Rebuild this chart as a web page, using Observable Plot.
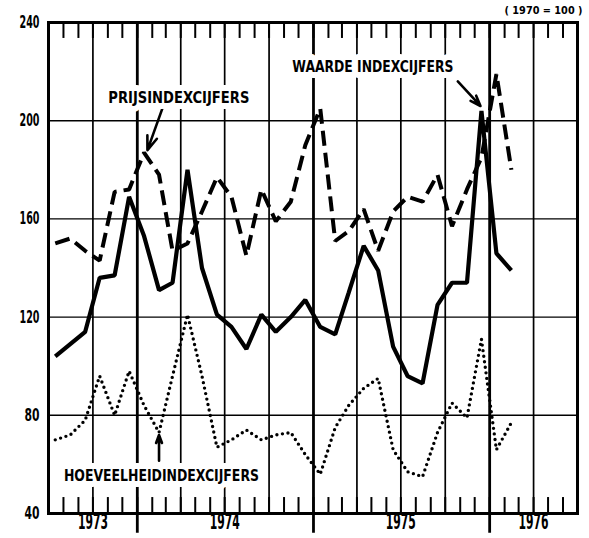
<!DOCTYPE html>
<html>
<head>
<meta charset="utf-8">
<script src="https://cdn.jsdelivr.net/npm/d3@7"></script>
<script src="https://cdn.jsdelivr.net/npm/@observablehq/plot@0.6"></script>
<style>
  html, body { margin: 0; padding: 0; background: #fff; }
  #chart svg { display: block; }
</style>
</head>
<body>
<div id="chart"></div>
<script>
// ---- data (index 1970 = 100), monthly ----
const months = [
  "1973-07","1973-08","1973-09","1973-10","1973-11","1973-12",
  "1974-01","1974-02","1974-03","1974-04","1974-05","1974-06",
  "1974-07","1974-08","1974-09","1974-10","1974-11","1974-12",
  "1975-01","1975-02","1975-03","1975-04","1975-05","1975-06",
  "1975-07","1975-08","1975-09","1975-10","1975-11","1975-12",
  "1976-01","1976-02"
];
// WAARDE INDEXCIJFERS (solid)
const waarde = [
  104, 109, 114, 136, 137, 169,
  153, 131, 134, 180, 140, 121,
  116, 107, 121, 114, 120, 127,
  116, 113, 130, 149, 139, 108,
   96,  93, 125, 134, 134, 204,
  146, 139
];
// PRIJSINDEXCIJFERS (dashed)
const prijs = [
  150, 152, 147, 143, 171, 172,
  187, 178, 147, 150, 163, 177,
  169, 145, 172, 159, 167, 190,
  205, 151, 155, 164, 147, 163,
  169, 167, 178, 157, 172, 185,
  219, 180
];
// HOEVEELHEIDINDEXCIJFERS (dotted)
const hoeveelheid = [
   70,  72,  78,  96,  80,  98,
   84,  73,  96, 121,  96,  67,
   70,  74,  70,  72,  73,  64,
   56,  75,  84,  91,  95,  66,
   57,  55,  73,  85,  79, 111,
   66,  77
];
const yTicks = [40, 80, 120, 160, 200, 240];
const yGrid = [80, 120, 160, 200];
const yearLabels = ["1973", "1974", "1975", "1976"];
const yearLabelDates = ["1973-10-01", "1974-07-01", "1975-07-01", "1976-04-01"];
const baseNote = "( 1970 = 100 )";

// annotations (data coordinates)
const labelTexts = ["PRIJSINDEXCIJFERS", "WAARDE INDEXCIJFERS", "HOEVEELHEIDINDEXCIJFERS"];
const labelDates = ["1974-03-28", "1975-05-04", "1974-02-20"];
const labelValues = [209.2, 222.1, 55.5];
const arrowFromDates = ["1974-02-22", "1975-10-27", "1974-02-15"];
const arrowFromValues = [205, 216, 61.5];
const arrowToDates = ["1974-01-22", "1975-12-13", "1974-02-15"];
const arrowToValues = [188, 206, 72];

// ---- build tables ----
const D = s => new Date(s.length === 7 ? s + "-15T00:00:00Z" : s + "T00:00:00Z");
const rows = months.map((m, i) => ({date: D(m), waarde: waarde[i], prijs: prijs[i], hoeveelheid: hoeveelheid[i]}));
const xDomain = [D("1973-07-01"), D("1976-07-01")];
const monthTicks = d3.utcMonth.range(D("1973-08-01"), D("1976-07-01"));
const yearLines = d3.utcYear.range(D("1973-07-02"), D("1976-07-01"));
const quarterLines = d3.utcMonth.every(3).range(D("1973-08-01"), D("1976-07-01")).filter(d => d.getUTCMonth() !== 0);
const years = yearLabels.map((t, i) => ({text: t, date: D(yearLabelDates[i])}));
const labels = labelTexts.map((t, i) => ({text: t, date: D(labelDates[i]), value: labelValues[i]}));
const arrows = arrowFromDates.map((d, i) => ({
  x1: D(d), y1: arrowFromValues[i], x2: D(arrowToDates[i]), y2: arrowToValues[i]
}));

const font = "'Liberation Sans Narrow', 'DejaVu Sans Condensed', 'Liberation Sans', Arial, sans-serif";

const chart = Plot.plot({
  width: 589,
  height: 538,
  marginLeft: 48,
  marginRight: 12,
  marginTop: 22,
  marginBottom: 25,
  x: {type: "utc", domain: xDomain, axis: null},
  y: {domain: [40, 240], axis: null},
  style: {fontFamily: font, background: "#fff", color: "#000", overflow: "visible"},
  marks: [
    Plot.ruleY(yGrid, {stroke: "#000", strokeWidth: 1.4}),
    Plot.ruleX(quarterLines, {y1: 40, y2: 240, stroke: "#000", strokeWidth: 1.7}),
    Plot.ruleX(monthTicks, {y1: 240, y2: 233.5, stroke: "#000", strokeWidth: 2}),
    Plot.ruleX(monthTicks, {y1: 40, y2: 46.5, stroke: "#000", strokeWidth: 2}),
    Plot.ruleX(yearLines, {y1: 32, y2: 240, stroke: "#000", strokeWidth: 2.8}),
    Plot.line(rows, {x: "date", y: "hoeveelheid", stroke: "#000", strokeWidth: 3.4,
      strokeDasharray: "0,5.6", strokeLinecap: "round", strokeLinejoin: "round"}),
    Plot.line(rows, {x: "date", y: "prijs", stroke: "#000", strokeWidth: 4,
      strokeDasharray: "15,7", strokeLinecap: "butt", strokeLinejoin: "miter"}),
    Plot.line(rows, {x: "date", y: "waarde", stroke: "#000", strokeWidth: 4.2,
      strokeLinejoin: "miter", strokeLinecap: "butt"}),
    Plot.arrow(arrows, {x1: "x1", y1: "y1", x2: "x2", y2: "y2", stroke: "#000",
      strokeWidth: 2.6, headLength: 10, headAngle: 40}),
    Plot.text(labels, {x: "date", y: "value", text: "text", fill: "#000", stroke: "#fff",
      strokeWidth: 12, fontSize: 16, fontWeight: "bold"}),
    Plot.frame({stroke: "#000", strokeWidth: 3}),
    Plot.text(yTicks, {y: d => d, text: d => String(d), frameAnchor: "left", dx: -9,
      textAnchor: "end", fontSize: 17, fontWeight: "bold", fill: "#000"}),
    Plot.text(years, {x: "date", text: "text", frameAnchor: "bottom", dy: 15,
      fontSize: 21, fontWeight: "bold", fill: "#000"}),
    Plot.text([baseNote], {text: d => d, frameAnchor: "top-right", dx: 5, dy: -12,
      lineAnchor: "middle", textAnchor: "end", fontSize: 11, fontWeight: "bold", fill: "#000"})
  ]
});

// fit texts to the reference widths
const widths = {
  "PRIJSINDEXCIJFERS": 141, "WAARDE INDEXCIJFERS": 161, "HOEVEELHEIDINDEXCIJFERS": 195,
  "1973": 30, "1974": 30, "1975": 30, "1976": 30, "( 1970 = 100 )": 78,
  "240": 20, "200": 20, "160": 20, "120": 20, "80": 15, "40": 15
};
d3.select(chart).selectAll("text").each(function() {
  const w = widths[this.textContent];
  if (w) {
    this.setAttribute("textLength", w);
    this.setAttribute("lengthAdjust", "spacingAndGlyphs");
  }
});

document.getElementById("chart").appendChild(chart);
</script>
</body>
</html>
